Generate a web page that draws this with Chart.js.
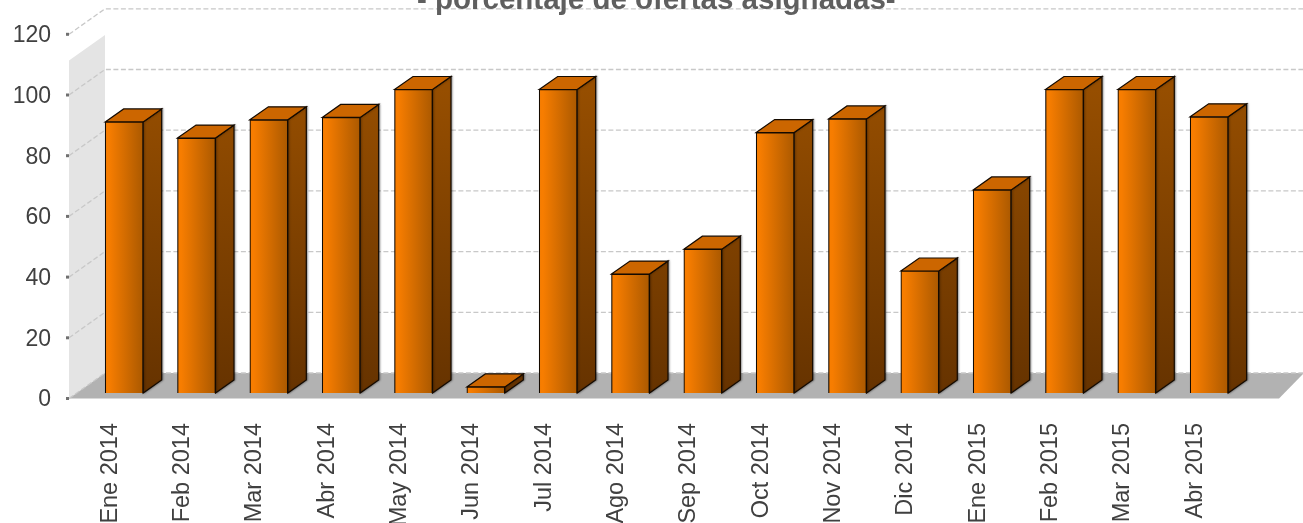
<!DOCTYPE html>
<html>
<head>
<meta charset="utf-8">
<title>Porcentaje de ofertas asignadas</title>
<script src="https://cdn.jsdelivr.net/npm/chart.js@4"></script>
<style>
  html, body { margin: 0; padding: 0; background: #fff; overflow: hidden; }
  canvas { display: block; }
</style>
</head>
<body>
<canvas id="chart" width="1303" height="523"></canvas>
<script>
// Data
const months = ['Ene 2014', 'Feb 2014', 'Mar 2014', 'Abr 2014', 'May 2014', 'Jun 2014', 'Jul 2014', 'Ago 2014',
                'Sep 2014', 'Oct 2014', 'Nov 2014', 'Dic 2014', 'Ene 2015', 'Feb 2015', 'Mar 2015', 'Abr 2015'];
const percentages = [89.3, 84, 90, 90.8, 100, 2, 100, 39.2, 47.4, 85.8, 90.3, 40.2, 66.9, 100, 100, 91];
const titleText = '- porcentaje de ofertas asignadas-';

// 3D look: offset of the back plane and the front plane from the bars plane
const depthX = 18.5, depthY = -13;
const backX = 17, backY = -20;
const frontX = -19, frontY = 5.5;
const wallTop = 111.4;

function barBox(chart, i) {
    const bar = chart.getDatasetMeta(0).data[i];
    return { left: bar.x - bar.width / 2, right: bar.x + bar.width / 2, top: bar.y, bottom: bar.base };
}

function poly(ctx, pts, fill, stroke) {
    ctx.beginPath();
    pts.forEach((p, i) => i ? ctx.lineTo(p[0], p[1]) : ctx.moveTo(p[0], p[1]));
    ctx.closePath();
    ctx.fillStyle = fill;
    ctx.fill();
    if (stroke) {
        ctx.strokeStyle = stroke;
        ctx.lineWidth = 1.2;
        ctx.stroke();
    }
}

const box3d = {
    id: 'box3d',
    // walls, floor and grid behind the bars
    beforeDatasetsDraw(chart) {
        const { ctx, scales: { x, y } } = chart;
        const wallFront = x.left + frontX, wallBack = x.left + backX;
        const zero = y.getPixelForValue(0);
        ctx.save();
        poly(ctx, [[wallFront, y.getPixelForValue(wallTop) + frontY], [wallBack, y.getPixelForValue(wallTop) + backY],
                   [wallBack, zero + backY], [wallFront, zero + frontY]], '#e4e4e4');
        poly(ctx, [[wallFront, zero + frontY], [wallBack, zero + backY],
                   [chart.width + 1, zero + backY], [chart.width - 24, zero + frontY]], '#b2b2b2');

        ctx.strokeStyle = '#c8c8c8';
        ctx.lineWidth = 1.3;
        ctx.setLineDash([5, 2.5]);
        y.ticks.forEach(t => {
            const py = y.getPixelForValue(t.value);
            ctx.beginPath();
            ctx.moveTo(wallFront, py + frontY);
            ctx.lineTo(wallBack, py + backY);
            ctx.lineTo(chart.width, py + backY);
            ctx.stroke();
        });
        ctx.setLineDash([]);
        ctx.fillStyle = '#707070';
        y.ticks.forEach(t => {
            ctx.fillRect(wallFront - 3, y.getPixelForValue(t.value) + frontY - 1.5, 3, 3);
        });

        // side and top faces, the front comes from the bar itself
        percentages.forEach((v, i) => {
            const b = barBox(chart, i);
            const side = ctx.createLinearGradient(0, y.getPixelForValue(100), 0, zero);
            side.addColorStop(0, '#964e00');
            side.addColorStop(1, '#663300');
            ctx.save();
            ctx.shadowColor = 'rgba(0,0,0,0.35)';
            ctx.shadowBlur = 2;
            ctx.shadowOffsetX = 1;
            poly(ctx, [[b.right, b.top], [b.right + depthX, b.top + depthY], [b.right + depthX, b.bottom + depthY], [b.right, b.bottom]], side, '#140a00');
            ctx.restore();
            poly(ctx, [[b.left, b.top], [b.left + depthX, b.top + depthY], [b.right + depthX, b.top + depthY], [b.right, b.top]], '#cc6600', '#140a00');
        });
        ctx.restore();
    },
    afterDraw(chart) {
        const { ctx } = chart;
        ctx.save();
        ctx.font = 'bold 29.5px "Liberation Sans"';
        ctx.fillStyle = '#5f5f5f';
        ctx.textBaseline = 'alphabetic';
        ctx.textAlign = 'left';
        ctx.fillText(titleText, 417, 8.5);
        ctx.restore();
    }
};

new Chart(document.getElementById('chart'), {
    type: 'bar',
    data: {
        labels: months,
        datasets: [{
            data: percentages,
            barThickness: 38,
            borderColor: '#140a00',
            borderWidth: 1.2,
            backgroundColor: (c) => {
                const { chart, dataIndex } = c;
                const scale = chart.scales.x;
                const cx = scale ? scale.getPixelForValue(dataIndex) : NaN;
                if (!Number.isFinite(cx)) return '#e07000'; // scales not laid out yet
                const g = chart.ctx.createLinearGradient(cx - 19, 0, cx + 19, 0);
                g.addColorStop(0.1, '#f77d00');
                g.addColorStop(1, '#ab5900');
                return g;
            }
        }]
    },
    plugins: [box3d],
    options: {
        responsive: false,
        animation: false,
        devicePixelRatio: 1,
        layout: { padding: { top: 28.8, right: 57.7, left: 0, bottom: 0 } },
        plugins: { legend: { display: false }, title: { display: false }, tooltip: { enabled: false } },
        scales: {
            x: {
                afterFit: (s) => { s.height = 130; s.paddingLeft = 0; s.paddingRight = 0; },
                grid: { display: false, drawTicks: false },
                border: { display: false },
                ticks: {
                    autoSkip: false,
                    minRotation: 90,
                    maxRotation: 90,
                    padding: 30,
                    labelOffset: -14,
                    color: '#404040',
                    font: { family: '"Liberation Sans"', size: 23.5 }
                }
            },
            y: {
                min: 0,
                max: 120,
                afterFit: (s) => { s.width = 88; s.paddingTop = 0; s.paddingBottom = 0; },
                grid: { display: false, drawTicks: false },
                border: { display: false },
                ticks: {
                    stepSize: 20,
                    padding: 37,
                    labelOffset: 7,
                    color: '#404040',
                    font: { family: '"Liberation Sans"', size: 23 }
                }
            }
        }
    }
});
</script>
</body>
</html>
